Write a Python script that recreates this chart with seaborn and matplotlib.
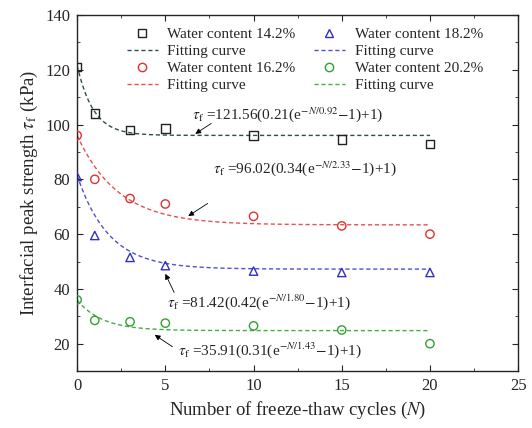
import numpy as np
import pandas as pd
import seaborn as sns
import matplotlib.pyplot as plt
from matplotlib.ticker import MultipleLocator

# measured points
cycles = [0, 1, 3, 5, 10, 15, 20]
wc142 = [121, 104, 98, 98.5, 96, 94.5, 93]
wc162 = [96, 80, 73, 71, 66.5, 63, 60]
wc182 = [81, 59.5, 51.5, 48.5, 46.5, 46, 46]
wc202 = [36, 28.5, 28, 27.5, 26.5, 25, 20]

# fitting parameters tau = A(B(e^(-N/C)-1)+1)
fitA = [121.56, 96.02, 81.42, 35.91]
fitB = [0.21, 0.34, 0.42, 0.31]
fitC = [0.92, 2.33, 1.80, 1.43]
labels = ["Water content 14.2%", "Water content 16.2%", "Water content 18.2%", "Water content 20.2%"]

sns.set_style("ticks")
plt.rcParams["font.family"] = ["Liberation Serif", "DejaVu Serif"]
plt.rcParams["mathtext.fontset"] = "stix"

fig, ax = plt.subplots(figsize=(5.32, 4.28), dpi=100)
fig.subplots_adjust(left=0.145, right=0.974, top=0.965, bottom=0.133)

mcol = ["#222222", "#e03030", "#3030c0", "#30a030"]
lcol = ["#2f4f4f", "#e85050", "#5050d0", "#40b040"]
mk = ["s", "o", "^", "o"]
series = [wc142, wc162, wc182, wc202]

pts = {}
lns = {}
n = np.linspace(0, 20, 300)
for i, ys in enumerate(series):
    df = pd.DataFrame({"N": cycles, "tau": ys})
    sns.scatterplot(data=df, x="N", y="tau", ax=ax, marker=mk[i], s=36,
                    facecolors="none", edgecolor=mcol[i], linewidth=1.0, zorder=3)
    pts[i] = plt.Line2D([], [], ls="none", marker=mk[i], mfc="none", mec=mcol[i], ms=6)
    cf = pd.DataFrame({"N": n, "tau": fitA[i] * (fitB[i] * (np.exp(-n / fitC[i]) - 1) + 1)})
    sns.lineplot(data=cf, x="N", y="tau", ax=ax, color=lcol[i], lw=1.0,
                 dashes=False, linestyle=(0, (3, 2)))
    lns[i] = plt.Line2D([], [], color=lcol[i], lw=1.0, ls=(0, (3, 2)))

handles = [pts[0], lns[0], pts[1], lns[1], pts[2], lns[2], pts[3], lns[3]]
names = [labels[0], "Fitting curve", labels[1], "Fitting curve",
         labels[2], "Fitting curve", labels[3], "Fitting curve"]
ax.legend(handles, names, ncol=2, loc="upper left", frameon=False, fontsize=11,
          bbox_to_anchor=(0.113, 0.964), borderpad=0, borderaxespad=0,
          handlelength=2.0, labelspacing=0.21, columnspacing=1.2, handletextpad=0.65)

# text, text position (left, center), arrow head, arrow tail
ann = [
    (r"$\tau_{\rm f}$ =121.56(0.21(e$^{-N/0.92}$$-$1)+1)", (6.5, 103.5), (6.7, 96.6), (7.6, 100.4)),
    (r"$\tau_{\rm f}$ =96.02(0.34(e$^{-N/2.33}$$-$1)+1)", (7.7, 84.0), (6.3, 66.6), (7.4, 71.2)),
    (r"$\tau_{\rm f}$ =81.42(0.42(e$^{-N/1.80}$$-$1)+1)", (5.1, 35.2), (5.0, 45.5), (5.5, 38.7)),
    (r"$\tau_{\rm f}$ =35.91(0.31(e$^{-N/1.43}$$-$1)+1)", (5.7, 17.7), (4.4, 23.2), (5.4, 18.9)),
]
for txt, tpos, head, tail in ann:
    ax.text(tpos[0], tpos[1], txt, fontsize=11, va="center", ha="left")
    ax.annotate("", xy=head, xytext=tail,
                arrowprops=dict(arrowstyle="-|>", color="black", lw=0.6,
                                mutation_scale=8, shrinkA=0, shrinkB=0))

ax.set_xlim(0, 25)
ax.set_ylim(10, 140)
ax.xaxis.set_major_locator(MultipleLocator(5))
ax.xaxis.set_minor_locator(MultipleLocator(2.5))
ax.yaxis.set_minor_locator(MultipleLocator(10))
ax.set_yticks([20, 40, 60, 80, 100, 120, 140])
ax.tick_params(which="both", direction="in", top=True, right=True, labelsize=12, pad=5)
ax.tick_params(which="major", length=4)
ax.tick_params(which="minor", length=2.5)
for s in ax.spines.values():
    s.set_linewidth(1.0)
ax.set_xlabel(r"Number of freeze-thaw cycles ($N$)", fontsize=13.5, labelpad=4)
ax.set_ylabel(r"Interfacial peak strength $\tau_{\rm f}$ (kPa)", fontsize=13.5, labelpad=4)

fig.savefig("out.png", dpi=100)
